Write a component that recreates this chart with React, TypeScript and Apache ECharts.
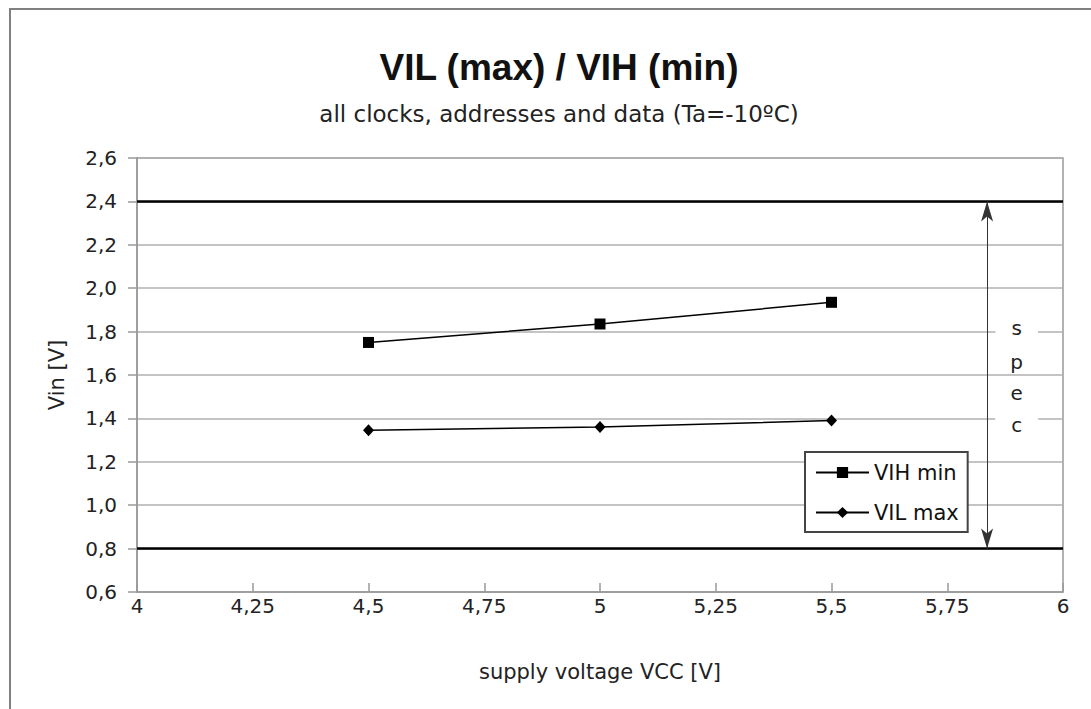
import React, { useEffect, useRef } from "react";
import * as echarts from "echarts";

const supplyVoltage = [4.5, 5, 5.5];
const vihMin = [1.75, 1.835, 1.935];
const vilMax = [1.345, 1.36, 1.39];
const specHigh = 2.4;
const specLow = 0.8;
const specArrowX = 5.836;
const specLetterX = 5.9;
const specLetters = ["s", "p", "e", "c"];
const specLetterY = [1.817, 1.66, 1.517, 1.37];

const TITLE_FONT = "'Liberation Sans', Arial, sans-serif";
const FONT = "'DejaVu Sans', sans-serif";
const comma = (s: string) => s.replace(".", ",");

export default function App() {
  const ref = useRef<HTMLDivElement>(null);
  useEffect(() => {
    if (!ref.current) return;
    const chart = echarts.init(ref.current, undefined, { renderer: "svg" });
    chart.setOption({
      animation: false,
      backgroundColor: "#ffffff",
      textStyle: { fontFamily: FONT },
      title: {
        text: "VIL (max) / VIH (min)",
        subtext: "all clocks, addresses and data (Ta=-10ºC)",
        left: 554,
        textAlign: "center",
        top: 44,
        itemGap: 16,
        textStyle: { fontFamily: TITLE_FONT, fontSize: 37, fontWeight: "bold", color: "#111" },
        subtextStyle: { fontFamily: FONT, fontSize: 23, color: "#222" },
      },
      graphic: [
        {
          type: "rect",
          shape: { x: 10, y: 9, width: 1100, height: 720 },
          style: { fill: "none", stroke: "#808080", lineWidth: 2 },
          z: 100,
        },
      ],
      legend: {
        left: 805,
        top: 452,
        orient: "vertical",
        backgroundColor: "#fff",
        borderColor: "#444",
        borderWidth: 2,
        padding: [10, 9, 9, 10],
        itemGap: 19,
        itemWidth: 53,
        itemHeight: 14,
        textStyle: { fontFamily: FONT, fontSize: 21, color: "#111" },
        data: ["VIH min", "VIL max"],
      },
      grid: {
        left: 137,
        right: 28,
        top: 158,
        bottom: 117,
        show: true,
        borderColor: "#999",
        borderWidth: 1.5,
      },
      xAxis: {
        type: "value",
        min: 4,
        max: 6,
        interval: 0.25,
        name: "supply voltage VCC [V]",
        nameLocation: "middle",
        nameGap: 69,
        nameTextStyle: { fontFamily: FONT, fontSize: 21, color: "#222" },
        axisLine: { lineStyle: { color: "#999", width: 1.5 } },
        axisTick: { inside: true, length: 9, lineStyle: { color: "#999", width: 1.5 } },
        axisLabel: {
          margin: 4,
          fontFamily: FONT,
          fontSize: 20,
          color: "#222",
          formatter: (v: number) => comma(String(v)),
        },
        splitLine: { show: false },
      },
      yAxis: {
        type: "value",
        min: 0.6,
        max: 2.6,
        interval: 0.2,
        name: "Vin [V]",
        nameLocation: "middle",
        nameGap: 70,
        nameTextStyle: { fontFamily: FONT, fontSize: 21, color: "#222" },
        axisLine: { show: true, lineStyle: { color: "#999", width: 1.5 } },
        axisTick: { show: true, length: 9, lineStyle: { color: "#999", width: 1.5 } },
        axisLabel: {
          margin: 20,
          fontFamily: FONT,
          fontSize: 20,
          color: "#222",
          formatter: (v: number) => comma(v.toFixed(1)),
        },
        splitLine: { show: true, lineStyle: { color: "#b0b0b0", width: 1.5 } },
      },
      series: [
        {
          name: "VIH min",
          type: "line",
          data: supplyVoltage.map((x, i) => [x, vihMin[i]]),
          symbol: "rect",
          symbolSize: 11,
          lineStyle: { color: "#000", width: 1.5 },
          itemStyle: { color: "#000" },
          z: 5,
          markLine: {
            silent: true,
            symbol: ["none", "none"],
            label: { show: false },
            lineStyle: { color: "#000", width: 2.5, type: "solid" },
            data: [{ yAxis: specHigh }, { yAxis: specLow }],
          },
        },
        {
          name: "VIL max",
          type: "line",
          data: supplyVoltage.map((x, i) => [x, vilMax[i]]),
          symbol: "diamond",
          symbolSize: [11, 12],
          lineStyle: { color: "#000", width: 1.5 },
          itemStyle: { color: "#000" },
          z: 5,
          markLine: {
            silent: true,
            symbol: ["arrow", "arrow"],
            symbolSize: [9, 20],
            label: { show: false },
            lineStyle: { color: "#333", width: 1, type: "solid" },
            data: [
              [
                { coord: [specArrowX, specHigh] },
                { coord: [specArrowX, specLow] },
              ],
            ],
          },
          markPoint: {
            silent: true,
            symbol: "rect",
            symbolSize: 1,
            itemStyle: { color: "rgba(0,0,0,0)" },
            label: {
              show: true,
              position: "inside",
              fontFamily: FONT,
              fontSize: 20,
              color: "#222",
              backgroundColor: "#fff",
              padding: [2, 16],
              formatter: (p: any) => p.name,
            },
            data: specLetters.map((l, i) => ({
              name: l,
              coord: [specLetterX, specLetterY[i]],
            })),
          },
        },
      ],
    });
    return () => chart.dispose();
  }, []);
  return (
    <div
      ref={ref}
      style={{ position: "fixed", left: 0, top: 0, width: 1091, height: 709 }}
    />
  );
}
